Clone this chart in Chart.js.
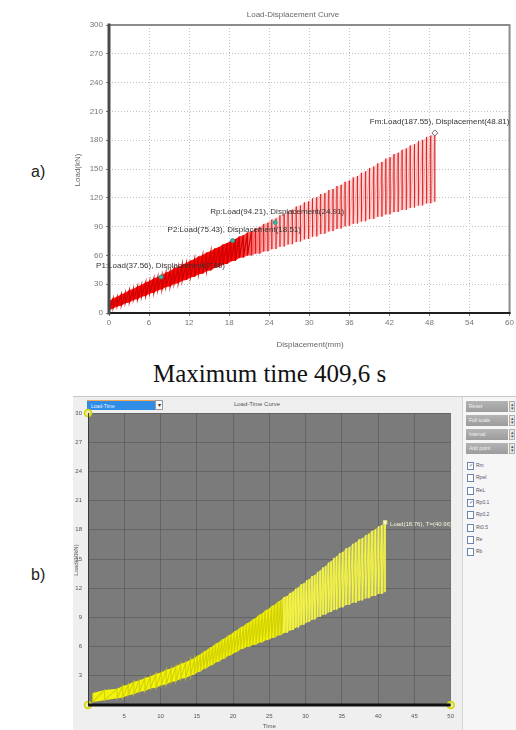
<!DOCTYPE html>
<html>
<head>
<meta charset="utf-8">
<script src="https://cdn.jsdelivr.net/npm/chart.js@4.4.1/dist/chart.umd.min.js"></script>
<style>
  html, body { margin: 0; padding: 0; background: #fff; }
  body { width: 516px; height: 730px; position: relative; overflow: hidden; font-family: "Liberation Sans", Arial, sans-serif; }
  .abs { position: absolute; }
  .tag { font-size: 16px; line-height: 16px; color: #222; }
  #caption { left: 153px; top: 361px; font-family: "Liberation Serif", "Times New Roman", serif; font-size: 25px; line-height: 25px; color: #111; white-space: nowrap; }
  #panelB { left: 73px; top: 396px; width: 443px; height: 334px; background: #efefef; border-top: 1px solid #c8c8c8; box-sizing: border-box; }
  #dropSel { left: 87px; top: 400px; width: 68px; height: 10px; background: #2f8de6; color: #e8f2ff; font-size: 5px; line-height: 10px; padding-left: 4px; box-sizing: border-box; border-top: 1px solid #f2a65a; }
  #dropArrow { left: 155px; top: 400px; width: 8px; height: 10px; background: #fafafa; border: 1px solid #9a9a9a; box-sizing: border-box; font-size: 6px; line-height: 8px; text-align: center; color: #333; }
  #titleB { left: 200px; top: 400px; width: 114px; text-align: center; font-size: 6px; line-height: 8px; color: #555; }
  #sideB { left: 462px; top: 397px; width: 54px; height: 333px; background: #f6f6f6; border-left: 1px solid #d4d4d4; box-sizing: border-box; }
  .btn { position: absolute; left: 3px; width: 42px; height: 11px; background: linear-gradient(#b4b4b4, #9c9c9c); color: #f2f2f2; font-size: 5px; line-height: 11px; padding-left: 3px; box-sizing: border-box; }
  .spin { position: absolute; left: 46px; width: 6px; height: 11px; background: #e9e9e9; border: 1px solid #b0b0b0; box-sizing: border-box; font-size: 5px; line-height: 4px; text-align: center; color: #555; }
  .chk { position: absolute; left: 4px; font-size: 5px; line-height: 7px; color: #556; white-space: nowrap; }
  .chk i { display: inline-block; width: 5px; height: 6px; border: 1px solid #6d86b0; background: #fff; vertical-align: middle; margin-right: 2px; font-style: normal; font-size: 5px; line-height: 5px; text-align: center; color: #2b4e8a; }
</style>
</head>
<body>

<div class="abs tag" style="left:31px;top:164px;">a)</div>
<canvas id="chartA" class="abs" width="516" height="360" style="left:0;top:0;width:516px;height:360px;"></canvas>
<div id="caption" class="abs">Maximum time 409,6 s</div>

<div class="abs tag" style="left:31px;top:567px;">b)</div>
<div id="panelB" class="abs"></div>
<div id="dropSel" class="abs">Load-Time</div>
<div id="dropArrow" class="abs">&#9662;</div>
<div id="titleB" class="abs">Load-Time Curve</div>
<canvas id="chartB" class="abs" width="389" height="334" style="left:73px;top:396px;width:389px;height:334px;"></canvas>
<div id="sideB" class="abs"></div>

<script>
// ---------- Load–displacement record (kN vs mm), one entry per loading cycle ----------
const xTicksA = [0, 6, 12, 18, 24, 30, 36, 42, 48, 54, 60];
const yTicksA = [0, 30, 60, 90, 120, 150, 180, 210, 240, 270, 300];

const cycleDisp = [
  0.05, 0.62, 1.21, 1.84, 2.43, 3.06, 3.65, 4.28, 4.87, 5.50,
  6.09, 6.72, 7.31, 7.94, 8.53, 9.16, 9.75, 10.38, 10.97, 11.60,
  12.19, 12.82, 13.41, 14.04, 14.63, 15.26, 15.85, 16.48, 17.07, 17.70,
  18.29, 18.92, 19.51, 20.14, 20.73, 21.36, 21.95, 22.58, 23.17, 23.80,
  24.39, 25.02, 25.61, 26.24, 26.83, 27.46, 28.05, 28.68, 29.27, 29.90,
  30.49, 31.12, 31.71, 32.34, 32.93, 33.56, 34.15, 34.78, 35.37, 36.00,
  36.59, 37.22, 37.81, 38.44, 39.03, 39.66, 40.25, 40.88, 41.47, 42.10,
  42.69, 43.32, 43.91, 44.54, 45.13, 45.76, 46.35, 46.98, 47.57, 48.20,
  48.81
];
const peakLoad = [
  12.4, 15.3, 16.8, 19.6, 21.0, 23.9, 25.1, 27.8, 29.2, 32.1,
  33.4, 36.2, 37.6, 39.7, 42.3, 43.8, 46.5, 48.0, 50.6, 52.1,
  54.8, 56.2, 58.9, 60.4, 63.1, 64.5, 67.2, 68.7, 71.4, 72.8,
  75.4, 77.0, 79.7, 81.1, 83.8, 85.2, 88.0, 89.6, 92.8, 94.1,
  97.3, 98.6, 101.8, 103.0, 106.2, 107.7, 110.9, 112.0, 115.1, 116.3,
  119.4, 120.6, 123.8, 124.9, 128.0, 129.2, 132.3, 133.5, 136.7, 138.0,
  141.2, 142.7, 146.1, 147.6, 151.0, 152.5, 155.9, 157.3, 160.8, 162.2,
  165.5, 166.9, 170.0, 171.4, 174.5, 175.9, 178.9, 180.3, 183.4, 184.8,
  187.55
];
const valleyLoad = [
  3.2, 4.8, 6.9, 7.6, 10.1, 11.0, 13.6, 14.3, 16.9, 17.7,
  20.3, 21.0, 23.6, 24.4, 27.0, 27.7, 30.3, 31.0, 33.7, 34.4,
  37.1, 37.7, 40.4, 41.0, 43.8, 44.4, 47.1, 47.8, 50.5, 51.1,
  53.8, 54.4, 57.2, 57.7, 59.8, 59.9, 61.9, 61.8, 64.1, 64.3,
  66.5, 66.7, 68.9, 69.2, 71.4, 71.6, 74.0, 74.4, 76.7, 77.1,
  79.5, 79.8, 82.2, 82.6, 84.9, 85.3, 87.6, 88.0, 90.3, 90.7,
  92.9, 93.1, 95.3, 95.6, 97.8, 98.0, 100.2, 100.4, 102.7, 102.9,
  105.1, 105.2, 107.3, 107.5, 109.6, 109.8, 111.9, 112.1, 114.2, 114.3,
  116.0
];

// characteristic points reported by the test software
const keyNames = ['P1', 'P2', 'Rp', 'Fm'];
const keyDisp = [7.80, 18.51, 24.91, 48.81];
const keyLoad = [37.56, 75.43, 94.21, 187.55];

// ---------- Same test against time (load in 10 kN units) ----------
const xTicksB = [0, 5, 10, 15, 20, 25, 30, 35, 40, 45, 50];
const yTicksB = [0, 3, 6, 9, 12, 15, 18, 21, 24, 27, 30];
const cycleTime = [
  0.65, 2.28, 4.03, 4.79, 5.55, 6.31, 7.08, 7.84, 8.60, 9.36,
  10.11, 10.78, 11.45, 12.12, 12.79, 13.47, 14.14, 14.66, 15.08, 15.51,
  15.93, 16.35, 16.78, 17.20, 17.62, 18.05, 18.47, 18.89, 19.32, 19.74,
  20.17, 20.59, 21.01, 21.44, 21.87, 22.30, 22.73, 23.16, 23.59, 24.02,
  24.45, 24.88, 25.31, 25.74, 26.17, 26.60, 27.03, 27.46, 27.87, 28.25,
  28.63, 29.00, 29.38, 29.76, 30.13, 30.51, 30.89, 31.27, 31.64, 32.02,
  32.40, 32.77, 33.15, 33.53, 33.91, 34.28, 34.69, 35.14, 35.58, 36.03,
  36.48, 36.93, 37.37, 37.82, 38.27, 38.72, 39.16, 39.61, 40.06, 40.51,
  40.96
];
const loadUnitB = 10;            // kN per unit on the time plot axis
const cursorTime = [0, 0, 50];   // cursor handles at the plot corners
const cursorLoad = [30, 0, 0];

const sideButtons = ['Reset', 'Full scale', 'Interval', 'Add point'];
const sideChecks = ['Rm', 'Rpel', 'ReL', 'Rp0.1', 'Rp0.2', 'Rt0.5', 'Re', 'Rb'];
const sideChecked = [true, false, false, true, false, false, false, false];

// ---------- build the point lists ----------
const curveA = [], curveB = [];
const upperA = [], lowerA = [], upperB = [], lowerB = [];
cycleDisp.forEach((d, i) => {
  const t = cycleTime[i];
  curveA.push({ x: d, y: peakLoad[i] }, { x: d, y: valleyLoad[i] });
  curveB.push({ x: t, y: peakLoad[i] / loadUnitB }, { x: t, y: valleyLoad[i] / loadUnitB });
  upperA.push({ x: d, y: peakLoad[i] });
  lowerA.push({ x: d, y: valleyLoad[i] });
  upperB.push({ x: t, y: peakLoad[i] / loadUnitB });
  lowerB.push({ x: t, y: valleyLoad[i] / loadUnitB });
});
const keyPts = keyDisp.map((d, i) => ({ x: d, y: keyLoad[i] }));
const lastIdx = cycleTime.length - 1;
const peakB = { x: cycleTime[lastIdx], y: peakLoad[lastIdx] / loadUnitB };
const cursorPts = cursorTime.map((t, i) => ({ x: t, y: cursorLoad[i] }));

Chart.defaults.font.family = '"Liberation Sans", Arial, sans-serif';
Chart.defaults.animation = false;

const fixedTicks = arr => scale => { scale.ticks = arr.map(v => ({ value: v })); };

// horizontal colour ramp for the band between cycle peaks and valleys
const bandFill = (from, to, c0, c1, fallback) => c => {
  const { chart } = c;
  if (!chart.chartArea) return fallback;
  const xs = chart.scales.x;
  const g = chart.ctx.createLinearGradient(xs.getPixelForValue(from), 0, xs.getPixelForValue(to), 0);
  g.addColorStop(0, c0);
  g.addColorStop(1, c1);
  return g;
};

// ---------- chart a: frame, titles and point annotations ----------
const decorA = {
  id: 'decorA',
  afterDatasetsDraw(chart) {
    const { ctx, chartArea: a } = chart;
    ctx.save();
    ctx.lineCap = 'square';
    ctx.strokeStyle = '#8c8c8c'; ctx.lineWidth = 2;
    ctx.beginPath(); ctx.moveTo(a.left, a.top); ctx.lineTo(a.right, a.top); ctx.lineTo(a.right, a.bottom); ctx.stroke();
    ctx.strokeStyle = '#1e1e1e'; ctx.lineWidth = 2;
    ctx.beginPath(); ctx.moveTo(a.left, a.bottom); ctx.lineTo(a.right, a.bottom); ctx.stroke();
    ctx.strokeStyle = '#4a4a4a'; ctx.lineWidth = 3;
    ctx.beginPath(); ctx.moveTo(a.left, a.top); ctx.lineTo(a.left, a.bottom); ctx.stroke();
    ctx.restore();
  },
  afterDraw(chart) {
    const { ctx, scales: { x, y } } = chart;
    ctx.save();
    ctx.fillStyle = '#666';
    ctx.font = '8px "Liberation Sans", Arial, sans-serif';
    ctx.textAlign = 'center'; ctx.textBaseline = 'middle';
    ctx.fillText('Load-Displacement Curve', 293, 15);
    ctx.fillText('Displacement(mm)', 310, 345);
    ctx.save(); ctx.translate(78, 170); ctx.rotate(-Math.PI / 2);
    ctx.fillText('Load(kN)', 0, 0); ctx.restore();
    ctx.fillStyle = '#333';
    ctx.textAlign = 'left';
    keyNames.forEach((n, i) => {
      const px = x.getPixelForValue(keyDisp[i]);
      const py = y.getPixelForValue(keyLoad[i]);
      ctx.fillText(n + ':Load(' + keyLoad[i].toFixed(2) + '), Displacement(' + keyDisp[i].toFixed(2) + ')', px - 65, py - 11);
    });
    ctx.restore();
  }
};

new Chart(document.getElementById('chartA'), {
  type: 'line',
  data: {
    datasets: [
      {
        data: keyPts,
        order: 0,
        showLine: false,
        pointStyle: ['circle', 'circle', 'circle', 'rectRot'],
        pointRadius: [2, 2, 2, 3],
        pointBackgroundColor: ['#3bb8a8', '#3bb8a8', '#3bb8a8', 'rgba(255,255,255,0.9)'],
        pointBorderColor: ['#2a9a8c', '#2a9a8c', '#2a9a8c', '#6a6a6a'],
        pointBorderWidth: 1
      },
      {
        data: curveA,
        order: 1,
        pointRadius: 0,
        borderWidth: 1,
        tension: 0,
        segment: {
          borderWidth: c => c.p0.parsed.x < 21 ? 1.3 : 0.8,
          borderColor: c => c.p0.parsed.x < 21 ? 'rgba(200,0,0,0.9)' : (c.p0.parsed.y > c.p1.parsed.y ? 'rgba(205,0,0,0.55)' : 'rgba(255,60,60,0.35)')
        }
      },
      {
        data: upperA,
        order: 2,
        pointRadius: 0,
        borderWidth: 0,
        fill: '+1',
        backgroundColor: bandFill(19, 25, 'rgba(255,0,0,0.97)', 'rgba(255,110,110,0.3)', 'rgba(255,0,0,0.6)')
      },
      {
        data: lowerA,
        order: 3,
        pointRadius: 0,
        borderWidth: 0,
        fill: false
      }
    ]
  },
  options: {
    responsive: false,
    devicePixelRatio: 1,
    layout: { padding: { left: 0, right: 4, top: 25, bottom: 0 } },
    plugins: { legend: { display: false }, tooltip: { enabled: false } },
    scales: {
      x: {
        type: 'linear', min: 0, max: 60,
        afterBuildTicks: fixedTicks(xTicksA),
        afterFit: s => { s.height = 47; },
        ticks: { font: { size: 8 }, color: '#777', padding: 2, maxRotation: 0, autoSkip: false },
        grid: { color: '#c2c2c2', lineWidth: 1, tickLength: 3, tickColor: '#777' },
        border: { display: false, dash: [1, 2] }
      },
      y: {
        type: 'linear', min: 0, max: 300,
        afterBuildTicks: fixedTicks(yTicksA),
        afterFit: s => { s.width = 109; },
        ticks: { font: { size: 8 }, color: '#777', padding: 3, autoSkip: false },
        grid: { color: '#c2c2c2', lineWidth: 1, tickLength: 3, tickColor: '#777' },
        border: { display: false, dash: [1, 2] }
      }
    }
  },
  plugins: [decorA]
});

// ---------- chart b: dark plot area, axis line, titles, peak readout ----------
const decorB = {
  id: 'decorB',
  beforeDraw(chart) {
    const { ctx, chartArea: a } = chart;
    ctx.save();
    ctx.fillStyle = '#7b7b7b';
    ctx.fillRect(a.left, a.top, a.right - a.left, a.bottom - a.top);
    ctx.restore();
  },
  afterDatasetsDraw(chart) {
    const { ctx, chartArea: a, scales: { x, y } } = chart;
    ctx.save();
    ctx.strokeStyle = '#3a3a3a'; ctx.lineWidth = 1;
    ctx.beginPath(); ctx.moveTo(a.left + 0.5, a.top); ctx.lineTo(a.left + 0.5, a.bottom); ctx.stroke();
    ctx.strokeStyle = '#111'; ctx.lineWidth = 3;
    ctx.beginPath(); ctx.moveTo(a.left, a.bottom); ctx.lineTo(a.right, a.bottom); ctx.stroke();
    ctx.fillStyle = '#f3f3d8';
    ctx.font = '6px "Liberation Sans", Arial, sans-serif';
    ctx.textAlign = 'left'; ctx.textBaseline = 'middle';
    ctx.fillText('Load(' + peakB.y.toFixed(2) + '), T=(' + peakB.x.toFixed(2) + ')',
      x.getPixelForValue(peakB.x) + 5, y.getPixelForValue(peakB.y) + 2);
    ctx.fillStyle = '#555';
    ctx.textAlign = 'center';
    ctx.fillText('Time', (a.left + a.right) / 2, 330);
    ctx.save(); ctx.translate(3, 164); ctx.rotate(-Math.PI / 2);
    ctx.fillText('Load(10kN)', 0, 0); ctx.restore();
    ctx.restore();
  }
};

const hideZero = v => (v === 0 ? '' : v);

new Chart(document.getElementById('chartB'), {
  type: 'line',
  data: {
    datasets: [
      {
        data: cursorPts,
        order: 0,
        showLine: false,
        clip: false,
        pointStyle: 'circle',
        pointRadius: 3.5,
        pointBackgroundColor: 'rgba(235,235,150,0.85)',
        pointBorderColor: '#d2d200',
        pointBorderWidth: 1.5
      },
      {
        data: [peakB],
        order: 0,
        showLine: false,
        pointStyle: 'rect',
        pointRadius: 2.5,
        pointBackgroundColor: '#f6f6cf',
        pointBorderColor: '#e4e48a',
        pointBorderWidth: 1
      },
      {
        data: curveB,
        order: 1,
        pointRadius: 0,
        borderWidth: 1,
        tension: 0,
        segment: {
          borderWidth: c => c.p0.parsed.x < 27 ? 1.1 : 1,
          borderColor: c => c.p0.parsed.x < 27 ? 'rgba(205,205,0,0.9)' : 'rgba(245,245,70,0.85)'
        }
      },
      {
        data: upperB,
        order: 2,
        pointRadius: 0,
        borderWidth: 0,
        fill: '+1',
        backgroundColor: bandFill(25, 31, 'rgba(246,246,10,0.97)', 'rgba(232,232,95,0.62)', 'rgba(240,240,0,0.8)')
      },
      {
        data: lowerB,
        order: 3,
        pointRadius: 0,
        borderWidth: 0,
        fill: false
      }
    ]
  },
  options: {
    responsive: false,
    devicePixelRatio: 1,
    layout: { padding: { left: 0, right: 9, top: 17, bottom: 0 } },
    plugins: { legend: { display: false }, tooltip: { enabled: false } },
    scales: {
      x: {
        type: 'linear', min: 0, max: 50,
        afterBuildTicks: fixedTicks(xTicksB),
        afterFit: s => { s.height = 25; },
        ticks: { font: { size: 6 }, color: '#555', padding: 8, maxRotation: 0, autoSkip: false, callback: hideZero },
        grid: { color: 'rgba(85,85,85,0.6)', lineWidth: 1, drawTicks: false },
        border: { display: false }
      },
      y: {
        type: 'linear', min: 0, max: 30,
        afterBuildTicks: fixedTicks(yTicksB),
        afterFit: s => { s.width = 15; },
        ticks: { font: { size: 6 }, color: '#555', padding: 6, autoSkip: false, callback: hideZero },
        grid: { color: 'rgba(85,85,85,0.6)', lineWidth: 1, drawTicks: false },
        border: { display: false }
      }
    }
  },
  plugins: [decorB]
});

// ---------- side panel of the load–time view ----------
const side = document.getElementById('sideB');
sideButtons.forEach((t, i) => {
  const b = document.createElement('div');
  b.className = 'btn'; b.style.top = (4 + i * 14) + 'px'; b.textContent = t;
  side.appendChild(b);
  const s = document.createElement('div');
  s.className = 'spin'; s.style.top = (4 + i * 14) + 'px'; s.innerHTML = '&#9652;<br>&#9662;';
  side.appendChild(s);
});
sideChecks.forEach((t, i) => {
  const c = document.createElement('div');
  c.className = 'chk'; c.style.top = (65 + i * 12.3) + 'px';
  c.innerHTML = '<i>' + (sideChecked[i] ? '&#10003;' : '') + '</i>' + t;
  side.appendChild(c);
});
</script>
</body>
</html>
